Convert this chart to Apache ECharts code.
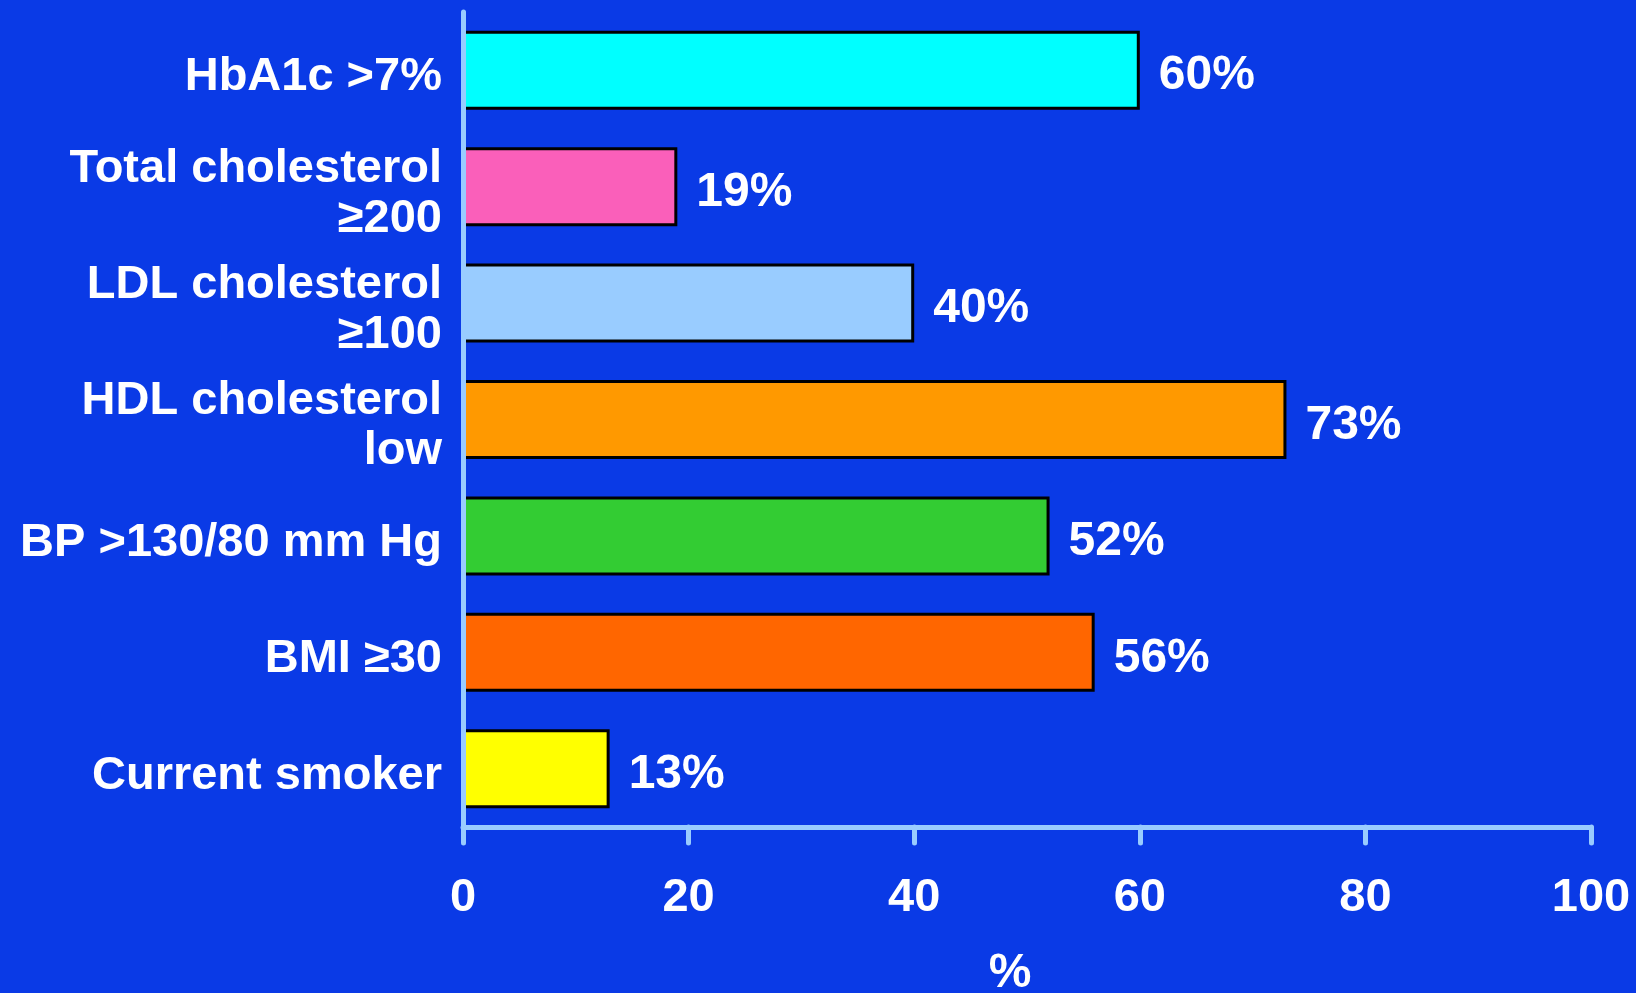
<!DOCTYPE html>
<html>
<head>
<meta charset="utf-8">
<title>Risk factor prevalence</title>
<script src="https://cdn.jsdelivr.net/npm/echarts@6/dist/echarts.min.js"></script>
<style>
  html, body { margin: 0; padding: 0; background: #0a3ae6; }
  #chart { width: 1636px; height: 993px; }
</style>
</head>
<body>
<div id="chart"></div>
<script>
// Risk factors (top to bottom) and share of patients, in percent
const categories = [
  'HbA1c >7%',
  'Total cholesterol\n≥200',
  'LDL cholesterol\n≥100',
  'HDL cholesterol\nlow',
  'BP >130/80 mm Hg',
  'BMI ≥30',
  'Current smoker'
];
const values = [60, 19, 40, 73, 52, 56, 13];
const barColors = ['#00ffff', '#fa5fba', '#99ccff', '#ff9900', '#33cc33', '#ff6600', '#ffff00'];
const xTicks = [0, 20, 40, 60, 80, 100];

const FONT = '"Liberation Sans", Arial, Helvetica, sans-serif';
const AXIS_COLOR = '#99ccff';
const LABEL_SHIFT = 7; // category text sits slightly below the bar centres

const chart = echarts.init(document.getElementById('chart'), null, { renderer: 'canvas' });

chart.setOption({
  backgroundColor: '#0a3ae6',
  animation: false,
  grid: [
    // plot area with bars and axis lines
    { left: 463, right: 45, top: 12, bottom: 166, containLabel: false, outerBoundsMode: 'none' },
    // same area nudged down, carrying only the category names
    { left: 463, right: 45, top: 12 + LABEL_SHIFT, bottom: 166 - LABEL_SHIFT, containLabel: false, outerBoundsMode: 'none' }
  ],
  xAxis: [{
    type: 'value',
    gridIndex: 0,
    min: xTicks[0],
    max: xTicks[xTicks.length - 1],
    interval: xTicks[1] - xTicks[0],
    z: 10,
    name: '%',
    nameLocation: 'middle',
    nameGap: 123,
    nameTextStyle: {
      color: '#ffffff', fontFamily: FONT, fontWeight: 'bold', fontSize: 48,
      padding: [0, 34, 0, 0]
    },
    axisLine: { show: true, lineStyle: { color: AXIS_COLOR, width: 5, cap: 'round' } },
    axisTick: { show: true, inside: false, length: 16, lineStyle: { color: AXIS_COLOR, width: 5, cap: 'round' } },
    axisLabel: { color: '#ffffff', fontFamily: FONT, fontWeight: 'bold', fontSize: 47, margin: 48 },
    splitLine: { show: false }
  }, {
    type: 'value',
    gridIndex: 1,
    min: xTicks[0],
    max: xTicks[xTicks.length - 1],
    show: false
  }],
  yAxis: [{
    type: 'category',
    gridIndex: 0,
    data: categories,
    inverse: true,
    z: 10,
    axisLine: { show: true, lineStyle: { color: AXIS_COLOR, width: 5, cap: 'round' } },
    axisTick: { show: false },
    axisLabel: { show: false },
    splitLine: { show: false }
  }, {
    type: 'category',
    gridIndex: 1,
    data: categories,
    inverse: true,
    axisLine: { show: false },
    axisTick: { show: false },
    axisLabel: {
      color: '#ffffff', fontFamily: FONT, fontWeight: 'bold', fontSize: 47,
      lineHeight: 50, margin: 21, align: 'right'
    },
    splitLine: { show: false }
  }],
  series: [{
    type: 'bar',
    xAxisIndex: 0,
    yAxisIndex: 0,
    barWidth: 79,
    data: values.map((v, i) => ({
      value: v,
      itemStyle: { color: barColors[i], borderColor: '#000000', borderWidth: 3 }
    })),
    label: {
      show: true,
      position: 'right',
      distance: 19,
      offset: [0, 6],
      formatter: p => p.value + '%',
      color: '#ffffff', fontFamily: FONT, fontWeight: 'bold', fontSize: 48
    }
  }]
});
</script>
</body>
</html>
